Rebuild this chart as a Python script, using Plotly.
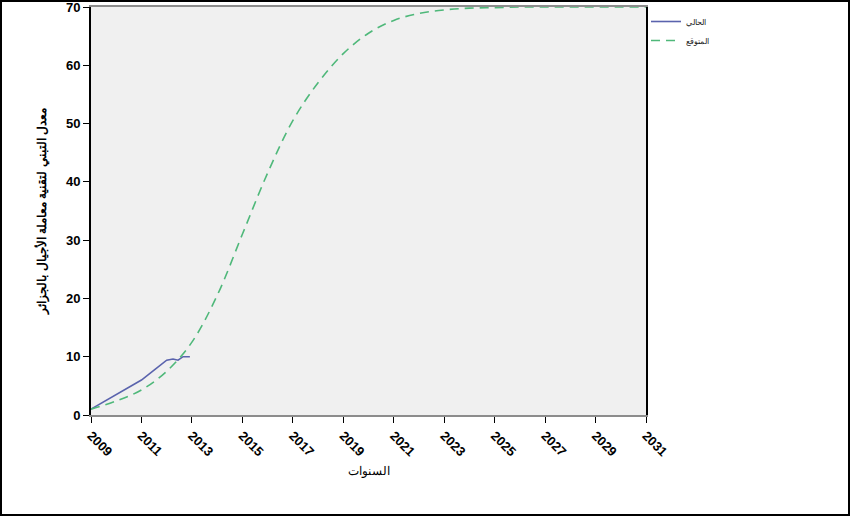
import plotly.graph_objects as go

# ---- data ----
actual_years = [2009, 2010, 2011, 2011.5, 2012, 2012.25, 2012.45, 2012.65, 2012.92]
actual_values = [1.0, 3.5, 6.0, 7.7, 9.4, 9.6, 9.4, 10.0, 10.0]

expected_years = [2009, 2010, 2011, 2012, 2013, 2014, 2015, 2016, 2017, 2018, 2019,
                  2020, 2021, 2022, 2023, 2024, 2025, 2026, 2027, 2028, 2029, 2030, 2031]
expected_values = [1.0, 2.4, 4.3, 7.5, 12.5, 20.5, 31.0, 41.5, 50.5, 57.0, 62.0,
                   65.5, 67.7, 68.9, 69.5, 69.8, 69.9, 70.0, 70.0, 70.0, 70.0, 70.0, 70.0]

x_ticks = list(range(2009, 2032, 2))
y_ticks = [0, 10, 20, 30, 40, 50, 60, 70]

name_actual = "الحالي"
name_expected = "المتوقع"
x_title = "السنوات"
y_title = "<b>معدل التبني لتقنية معاملة الأجيال بالجزائر</b>"

# ---- figure ----
W, H = 851, 517
ml, mr, mt, mb = 91, 205, 7, 102
pw, ph = W - ml - mr, H - mt - mb

fig = go.Figure()
fig.add_trace(go.Scatter(x=actual_years, y=actual_values, mode="lines", name=name_actual,
                         line=dict(color="#5a63ad", width=1.6)))
fig.add_trace(go.Scatter(x=expected_years, y=expected_values, mode="lines", name=name_expected,
                         line=dict(color="#4fb87a", width=1.6, dash="9px,6px", shape="spline")))

def px_x(p):
    return (p - ml) / pw

def px_y(p):
    return (H - mb - p) / ph

# outer frame
fig.add_shape(type="rect", xref="paper", yref="paper",
              x0=px_x(1), x1=px_x(849), y0=px_y(515), y1=px_y(1),
              line=dict(color="black", width=2), fillcolor="rgba(0,0,0,0)", layer="above")

fig.update_layout(
    width=W, height=H,
    margin=dict(l=ml, r=mr, t=mt, b=mb, autoexpand=False),
    paper_bgcolor="white",
    plot_bgcolor="#f0f0f0",
    font=dict(family="Liberation Sans, Arial, sans-serif", color="black"),
    showlegend=True,
    legend=dict(x=1.0, y=1.0, xanchor="left", yanchor="top",
                font=dict(size=8, color="#222"), bgcolor="rgba(0,0,0,0)",
                itemwidth=30, tracegroupgap=0),
    xaxis=dict(range=[2009, 2031], tickvals=x_ticks, ticktext=[str(v) for v in x_ticks],
               tickangle=45, ticks="outside", ticklen=6, tickcolor="black", automargin=False,
               ticklabeloverflow="allow",
               tickfont=dict(size=13, family="Liberation Sans Narrow, Liberation Sans, Arial", weight="bold"),
               showgrid=False, zeroline=False, showline=True, linecolor="#8c8c8c", linewidth=2,
               mirror=True,
               title=dict(text=x_title, font=dict(size=12), standoff=8)),
    yaxis=dict(range=[0, 70], tickvals=y_ticks, ticks="outside", ticklen=6, tickcolor="black",
               tickfont=dict(size=13, weight="bold"), automargin=False,
               ticklabeloverflow="allow",
               showgrid=False, zeroline=False, showline=True, linecolor="black", linewidth=2,
               mirror=True,
               title=dict(text=y_title, font=dict(size=12), standoff=17)),
)

fig.write_html("out.html", config={"displayModeBar": False},
               post_script="document.body.style.margin='0';document.body.style.padding='0';"
                           "document.documentElement.style.overflow='hidden';")
